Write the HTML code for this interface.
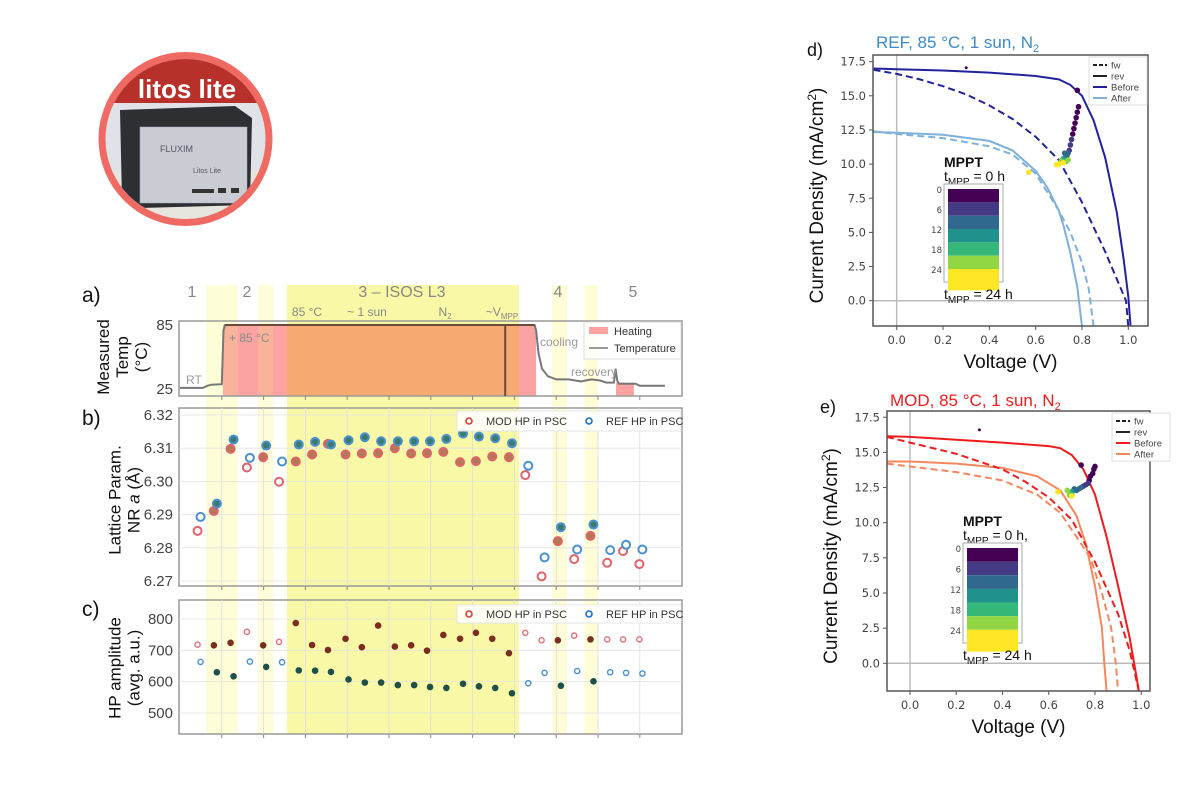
<!DOCTYPE html>
<html><head><meta charset="utf-8">
<style>
body{margin:0;background:#fff;}
svg{display:block;font-family:"Liberation Sans",sans-serif;}
.tk{font-family:"DejaVu Sans","Liberation Sans",sans-serif;fill:#444;}
</style></head>
<body>
<svg id="fig" width="1200" height="800" viewBox="0 0 1200 800">
<defs>
<clipPath id="clipD"><rect x="873" y="55" width="275" height="271"/></clipPath>
<clipPath id="clipE"><rect x="887" y="411" width="263" height="280"/></clipPath>
<clipPath id="logoClip"><circle cx="185.5" cy="139" r="80"/></clipPath>
</defs>
<g id="logo">
<circle cx="185.5" cy="139" r="87" fill="#ef6a63"/>
<g clip-path="url(#logoClip)">
<rect x="95" y="50" width="180" height="180" fill="#dfe2e6"/>
<rect x="95" y="50" width="180" height="53" fill="#b8302a"/>
<rect x="95" y="170" width="180" height="60" fill="#e8e4de"/>
<path d="M120 110 L235 106 L252 118 L250 205 L140 208 L122 200 Z" fill="#2e2f33"/>
<rect x="140" y="127" width="107" height="76" fill="#c9ccd2"/>
<rect x="140" y="127" width="107" height="76" fill="url(#none)" stroke="#aab" stroke-width="0.5"/>
<text x="160" y="152" font-size="9" fill="#556">FLUXIM</text>
<text x="193" y="173" font-size="7" fill="#556">Litos Lite</text>
<rect x="192" y="189" width="22" height="4" fill="#333"/>
<rect x="218" y="188" width="8" height="5" fill="#333"/>
<rect x="231" y="188" width="8" height="5" fill="#333"/>
</g>
<text x="187" y="98" font-size="26" font-weight="bold" fill="#fff" text-anchor="middle">litos lite</text>
</g>
<g id="left"></g>
<g id="pd"></g>
<g id="pe"></g>
</svg>
<script>
// ---------- Data: panels a-c ----------
const bandStart=[0.62,1.87,2.56,8.9,9.67];
const bandEnd=[1.38,2.23,8.11,9.26,10.0];
const heatStart=[1.03,10.43];
const heatEnd=[8.52,10.86];
const heatTop=[85,31];
const tempT=[0,0.55,0.65,0.75,1.0,1.04,1.08,8.48,8.52,8.58,8.66,8.8,9.0,9.3,9.6,9.7,9.85,10.05,10.2,10.38,10.42,10.46,10.5,10.9,11.0,11.6];
const tempV=[26,26,28,29,29.5,80,85,85,80,58,44,37,34,34,32,33,34,33,31,31,44,33,30,30,28,28];
const xPos=[0.42,0.81,1.21,1.60,1.99,2.37,2.77,3.16,3.54,3.96,4.35,4.74,5.14,5.53,5.91,6.30,6.70,7.08,7.47,7.87,8.26,8.65,9.04,9.43,9.82,10.22,10.60,10.99];
const latMOD=[6.2851,6.2911,6.3098,6.3042,6.3073,6.2999,6.3060,6.3081,6.3113,6.3081,6.3084,6.3085,6.3100,6.3084,6.3085,6.3089,6.3058,6.3061,6.3075,6.3073,6.3019,6.2714,6.2820,6.2766,6.2836,6.2755,6.2790,6.2751];
const latREF=[6.2893,6.2933,6.3126,6.3071,6.3108,6.3060,6.3111,6.3119,6.3111,6.3124,6.3133,6.3121,6.3121,6.3121,6.3121,6.3128,6.3144,6.3135,6.3130,6.3115,6.3047,6.2771,6.2862,6.2795,6.2870,6.2793,6.2809,6.2795];
const ampMOD=[718,716,724,759,716,727,787,717,701,737,710,779,712,716,699,749,737,756,737,691,756,732,732,747,735,735,735,735];
const ampREF=[663,630,617,664,647,662,636,635,631,607,597,597,589,589,583,580,593,585,580,563,595,628,587,634,601,630,628,626];
const latTicks=[6.32,6.31,6.30,6.29,6.28,6.27];
const ampTicks=[800,700,600,500];
const tempTicks=[85,25];
const xTicks=[1,2,3,4,5,6,7,8,9,10,11];
// ---------- Data: panel d ----------
const dBeforeRevV=[-0.1,0,0.2,0.4,0.6,0.7,0.75,0.8,0.85,0.9,0.95,0.98,1.0,1.01];
const dBeforeRevJ=[17.0,16.95,16.85,16.7,16.45,16.2,15.8,15.0,13.2,10.5,6.5,3,0.3,-1.9];
const dBeforeFwV=[-0.1,0,0.1,0.2,0.3,0.4,0.5,0.6,0.7,0.8,0.9,0.95,0.99,1.0];
const dBeforeFwJ=[16.9,16.6,16.2,15.7,15.1,14.3,13.3,12.0,10.3,7.2,3.6,1.6,0,-1.9];
const dAfterRevV=[-0.1,0,0.2,0.4,0.5,0.6,0.65,0.7,0.72,0.75,0.78,0.8];
const dAfterRevJ=[12.35,12.3,12.15,11.7,11.0,9.5,8.3,6.6,5.5,3.5,1.0,-1.9];
const dAfterFwV=[-0.1,0,0.2,0.4,0.5,0.6,0.7,0.75,0.8,0.83,0.85];
const dAfterFwJ=[12.4,12.2,11.9,11.3,10.7,9.3,6.6,5.0,2.8,0.8,-1.9];
const dMpV=[0.3,0.78,0.785,0.78,0.775,0.77,0.765,0.76,0.755,0.75,0.745,0.74,0.735,0.73,0.725,0.72,0.73,0.715,0.71,0.7,0.69,0.72,0.74,0.57];
const dMpJ=[17.05,15.4,14.2,13.8,13.4,13.0,12.6,12.2,11.8,11.4,11.0,10.8,10.6,10.5,10.8,10.4,10.2,10.3,10.2,10.0,9.95,10.1,10.3,9.4];
const dMpH=[0,0,0,0,1,2,2,3,4,5,6,7,8,9,10,12,14,16,20,24,24,22,18,24];
// ---------- Data: panel e ----------
const eBeforeRevV=[-0.1,0,0.2,0.4,0.6,0.65,0.7,0.75,0.8,0.85,0.9,0.95,0.98,0.99];
const eBeforeRevJ=[16.15,16.1,15.9,15.7,15.45,15.3,14.8,13.8,12.0,9.0,5.5,1.8,-1.0,-2.0];
const eBeforeFwV=[-0.1,0,0.2,0.4,0.5,0.6,0.7,0.8,0.9,0.95,0.99];
const eBeforeFwJ=[16.1,15.7,14.9,13.8,12.9,11.8,10.2,7.2,3.5,0.9,-2.0];
const eAfterRevV=[-0.1,0,0.2,0.4,0.55,0.65,0.72,0.76,0.8,0.83,0.84,0.85];
const eAfterRevJ=[14.35,14.35,14.2,13.9,13.3,12.3,10.5,8.5,5.5,2.5,0,-2.0];
const eAfterFwV=[-0.1,0,0.2,0.4,0.55,0.65,0.72,0.78,0.83,0.87,0.89,0.9];
const eAfterFwJ=[14.2,14.0,13.6,13.0,12.0,10.7,9.0,7.5,5.0,2.5,0,-2.0];
const eMpV=[0.3,0.74,0.8,0.795,0.79,0.78,0.775,0.77,0.76,0.75,0.74,0.73,0.72,0.71,0.7,0.69,0.7,0.68,0.69,0.7,0.64];
const eMpJ=[16.6,14.1,14.0,13.8,13.5,13.3,13.0,12.8,12.7,12.6,12.5,12.4,12.3,12.4,12.2,12.1,12.0,12.3,11.95,11.9,12.2];
const eMpH=[0,0,0,0,1,2,3,4,5,6,7,8,9,10,12,14,16,18,20,24,24];
const cbTicks=[0,6,12,18,24];
const viridis=['#440154','#443983','#31688e','#21918c','#35b779','#90d743','#fde725'];

const NS='http://www.w3.org/2000/svg';
function mk(parent,tag,attrs,text){const e=document.createElementNS(NS,tag);for(const k in attrs)e.setAttribute(k,attrs[k]);if(text!==undefined)e.textContent=text;parent.appendChild(e);return e;}
function vcol(h){return viridis[Math.min(6,Math.floor(h/24*6.99))];}

const X=t=>180+41.8*t;
const Ya=T=>389-(T-25)*64/60;
const Yb=v=>415+(6.32-v)*3320;
const Yc=v=>619+(800-v)*0.3133;
const L=document.getElementById('left');

for(let i=0;i<bandStart.length;i++){
  const r=mk(L,'rect',{x:X(bandStart[i]),y:285,width:X(bandEnd[i])-X(bandStart[i]),height:449,fill:i===2?'#f8f8a6':'#fdfdd8'});
  
  
}
for(let i=0;i<heatStart.length;i++){
  const x0=X(heatStart[i]),x1=X(heatEnd[i]),y0=Ya(heatTop[i]);
  const r=mk(L,'rect',{x:x0,y:y0,width:x1-x0,height:396-y0,fill:'#fba3a3'});
  
  
  for(let j=0;j<bandStart.length;j++){
    const a=Math.max(heatStart[i],bandStart[j]),b=Math.min(heatEnd[i],bandEnd[j]);
    if(b>a){const o=mk(L,'rect',{x:X(a),y:y0,width:X(b)-X(a),height:396-y0,fill:j===2?'#f6a971':'#f9b39a'});
      
      }
  }
}
const frames=[[321,396,'panel-a-frame'],[408,586,'panel-b-frame'],[600,734,'panel-c-frame']];
frames.forEach(f=>{const r=mk(L,'rect',{x:179,y:f[0],width:503,height:f[1]-f[0],fill:'none',stroke:'#999','stroke-width':1.5});
  
  });
xTicks.forEach(t=>{
  [[408,586],[600,734]].forEach(g=>mk(L,'line',{x1:X(t),x2:X(t),y1:g[0],y2:g[1],stroke:'#ddd','stroke-width':0.8}));
  [396,586,734].forEach(yb=>mk(L,'line',{x1:X(t),x2:X(t),y1:yb,y2:yb+4,stroke:'#888','stroke-width':1}));
});
latTicks.forEach(v=>{mk(L,'line',{x1:179,x2:682,y1:Yb(v),y2:Yb(v),stroke:'#e2e2e2','stroke-width':0.8});
  const t=mk(L,'text',{x:173,y:Yb(v)+5,'font-size':15,fill:'#444','text-anchor':'end'},v.toFixed(2));
  
  });
ampTicks.forEach(v=>{mk(L,'line',{x1:179,x2:682,y1:Yc(v),y2:Yc(v),stroke:'#e2e2e2','stroke-width':0.8});
  const t=mk(L,'text',{x:173,y:Yc(v)+5,'font-size':15,fill:'#444','text-anchor':'end'},String(v));
  
  });
tempTicks.forEach(v=>{const t=mk(L,'text',{x:173,y:Ya(v)+5,'font-size':15,fill:'#444','text-anchor':'end'},String(v));
  
  });
mk(L,'line',{x1:X(7.78),x2:X(7.78),y1:Ya(85),y2:396,stroke:'#6b4a3a','stroke-width':2});
let d='';tempT.forEach((t,i)=>{d+=(i?'L':'M')+X(t).toFixed(1)+' '+Ya(tempV[i]).toFixed(1);});
const tl=mk(L,'path',{d:d,fill:'none',stroke:'#777','stroke-width':2});


mk(L,'line',{x1:X(1.08),x2:X(8.48),y1:Ya(85),y2:Ya(85),stroke:'#6b4a3a','stroke-width':2});
[['1',192],['2',247],['3 – ISOS L3',402],['4',558],['5',633]].forEach(s=>{
  const t=mk(L,'text',{x:s[1],y:297,'font-size':16,fill:'#888','text-anchor':'middle'},s[0]);
  
  });
[['85 °C',307],['~ 1 sun',367]].forEach(s=>mk(L,'text',{x:s[1],y:316,'font-size':12,fill:'#888','text-anchor':'middle'},s[0]));
const n2=mk(L,'text',{x:445,y:316,'font-size':12,fill:'#888','text-anchor':'middle'});n2.innerHTML='N<tspan font-size="8" dy="3">2</tspan>';
const vm=mk(L,'text',{x:502,y:316,'font-size':12,fill:'#888','text-anchor':'middle'});vm.innerHTML='~V<tspan font-size="8" dy="3">MPP</tspan>';
mk(L,'text',{x:229,y:342,'font-size':12,fill:'#8a8a8a'},'+ 85 °C');
mk(L,'text',{x:186,y:384,'font-size':12,fill:'#999'},'RT');
mk(L,'text',{x:540,y:346,'font-size':12,fill:'#999'},'cooling');
mk(L,'text',{x:571,y:376,'font-size':12,fill:'#999'},'recovery');
const tlg=mk(L,'g',{});


mk(tlg,'rect',{x:584,y:322,width:97,height:37,fill:'#fff','fill-opacity':0.85,stroke:'#ddd'});
mk(tlg,'rect',{x:589,y:327,width:19,height:7,fill:'#fba3a3'});
mk(tlg,'text',{x:614,y:335,'font-size':11,fill:'#333'},'Heating');
mk(tlg,'line',{x1:589,x2:608,y1:348,y2:348,stroke:'#999','stroke-width':2});
mk(tlg,'text',{x:614,y:352,'font-size':11,fill:'#333'},'Temperature');

function inBand(t){for(let i=0;i<bandStart.length;i++)if(t>=bandStart[i]&&t<=bandEnd[i])return true;return false;}
xPos.forEach((t,i)=>{
  const f=inBand(t);
  const m=mk(L,'circle',{cx:X(t),cy:Yb(latMOD[i]),r:4,fill:f?'#b07a55':'#fff',stroke:'#e0636b','stroke-width':2});
  
  
  const r=mk(L,'circle',{cx:X(t)+3,cy:Yb(latREF[i]),r:4,fill:f?'#3e7a6c':'#fff',stroke:'#4a90d0','stroke-width':2});
  
  
  const m2=mk(L,'circle',{cx:X(t),cy:Yc(ampMOD[i]),r:2.6,fill:f?'#7a2e20':'#fff',stroke:f?'#7a2e20':'#e0707a','stroke-width':1.4});
  
  
  const r2=mk(L,'circle',{cx:X(t)+3,cy:Yc(ampREF[i]),r:2.6,fill:f?'#1f4f4a':'#fff',stroke:f?'#1f4f4a':'#4a90d0','stroke-width':1.4});
  
  
});
[[411,431,'lattice-legend'],[605,623,'amplitude-legend']].forEach(g=>{
  const lg=mk(L,'g',{});
  
  
  mk(lg,'rect',{x:457,y:g[0],width:224,height:g[1]-g[0],fill:'#fff','fill-opacity':0.85,stroke:'#e5e5e5'});
  const cy=(g[0]+g[1])/2;
  mk(lg,'circle',{cx:469,cy:cy,r:3,fill:'none',stroke:'#e03a3a','stroke-width':1.6});
  mk(lg,'text',{x:486,y:cy+4,'font-size':11,fill:'#333'},'MOD HP in PSC');
  mk(lg,'circle',{cx:589,cy:cy,r:3,fill:'none',stroke:'#1a6fd0','stroke-width':1.6});
  mk(lg,'text',{x:606,y:cy+4,'font-size':11,fill:'#333'},'REF HP in PSC');
});
[['a)',82,302],['b)',82,425],['c)',82,616]].forEach(s=>mk(L,'text',{x:s[1],y:s[2],'font-size':21,fill:'#111'},s[0]));
function ytitle(lines,cx,cy,name){const g=mk(L,'text',{'font-size':17,fill:'#111','text-anchor':'middle',transform:`translate(${cx},${cy}) rotate(-90)`});
  
  
  lines.forEach((l,i)=>{const ts=mk(g,'tspan',{x:0,y:(i-(lines.length-1)/2)*19+6});ts.innerHTML=l;});}
ytitle(['Measured','Temp','(°C)'],122,357,'temp-axis-title');
ytitle(['Lattice Param.','NR <tspan font-style="italic">a</tspan> (Å)'],124,500,'lattice-axis-title');
ytitle(['HP amplitude','(avg. a.u.)'],124,668,'amplitude-axis-title');

function jvPanel(gid,cfg){
  const G=document.getElementById(gid);
  const Xf=cfg.X,Yf=cfg.Y;
  mk(G,'rect',{x:cfg.l,y:cfg.t,width:cfg.r-cfg.l,height:cfg.b-cfg.t,fill:'#fff'});
  const C=mk(G,'g',{'clip-path':`url(#${cfg.clip})`});
  mk(C,'line',{x1:Xf(0),x2:Xf(0),y1:cfg.t,y2:cfg.b,stroke:'#bbb','stroke-width':1.5});
  mk(C,'line',{x1:cfg.l,x2:cfg.r,y1:Yf(0),y2:Yf(0),stroke:'#bbb','stroke-width':1.5});
  function line(V,J,col,dash,name){let d='';V.forEach((v,i)=>{d+=(i?'L':'M')+Xf(v).toFixed(1)+' '+Yf(J[i]).toFixed(1);});
    const p=mk(C,'path',{d:d,fill:'none',stroke:col,'stroke-width':2,'stroke-dasharray':dash?'7,4':'none'});
    
    }
  line(cfg.arV,cfg.arJ,cfg.cA,false,'after-rev-curve');
  line(cfg.afV,cfg.afJ,cfg.cA,true,'after-fw-curve');
  line(cfg.brV,cfg.brJ,cfg.cB,false,'before-rev-curve');
  line(cfg.bfV,cfg.bfJ,cfg.cB,true,'before-fw-curve');
  cfg.mV.forEach((v,i)=>{const c=mk(C,'circle',{cx:Xf(v),cy:Yf(cfg.mJ[i]),r:i===0?1.5:2.8,fill:vcol(cfg.mH[i])});
    
    });
  mk(G,'rect',{x:cfg.l,y:cfg.t,width:cfg.r-cfg.l,height:cfg.b-cfg.t,fill:'none',stroke:'#555','stroke-width':1.5});
  [0,0.2,0.4,0.6,0.8,1.0].forEach(v=>{mk(G,'line',{x1:Xf(v),x2:Xf(v),y1:cfg.b,y2:cfg.b+4,stroke:'#555'});
    const t=mk(G,'text',{x:Xf(v),y:cfg.b+18,'font-size':11.5,'text-anchor':'middle',class:'tk'},v.toFixed(1));
    
    });
  [0,2.5,5,7.5,10,12.5,15,17.5].forEach(v=>{mk(G,'line',{x1:cfg.l-4,x2:cfg.l,y1:Yf(v),y2:Yf(v),stroke:'#555'});
    const t=mk(G,'text',{x:cfg.l-7,y:Yf(v)+4,'font-size':11.5,'text-anchor':'end',class:'tk'},v.toFixed(1));
    
    });
  const xt=mk(G,'text',{x:(cfg.l+cfg.r)/2,y:cfg.b+42,'font-size':19,'text-anchor':'middle',fill:'#111'},'Voltage (V)');
  
  
  const yt=mk(G,'text',{'font-size':19,'text-anchor':'middle',fill:'#111',transform:`translate(${cfg.l-50},${(cfg.t+cfg.b)/2+5}) rotate(-90)`});
  yt.innerHTML='Current Density (mA/cm<tspan font-size="12" dy="-7">2</tspan><tspan dy="7">)</tspan>';
  
  
  const ti=mk(G,'text',{x:cfg.titleX,y:cfg.titleY,'font-size':17,fill:cfg.titleCol});
  ti.innerHTML=cfg.title+'N<tspan font-size="11" dy="4">2</tspan>';
  
  
  mk(G,'text',{x:cfg.letX,y:cfg.letY,'font-size':18,fill:'#111'},cfg.letter);
  const lg=mk(G,'g',{});
  
  
  mk(lg,'rect',{x:cfg.lgX,y:cfg.lgY,width:58,height:48,fill:'#fff',stroke:'#ddd'});
  [['fw','#222',true],['rev','#222',false],['Before',cfg.cB,false],['After',cfg.cA,false]].forEach((e,i)=>{
    const y=cfg.lgY+8+i*11;
    mk(lg,'line',{x1:cfg.lgX+4,x2:cfg.lgX+18,y1:y,y2:y,stroke:e[1],'stroke-width':2,'stroke-dasharray':e[2]?'4,2':'none'});
    mk(lg,'text',{x:cfg.lgX+22,y:y+3.5,'font-size':9.5,fill:'#444'},e[0]);
  });
  const cb=mk(G,'g',{});
  
  
  mk(cb,'text',{x:cfg.cbX-4,y:cfg.cbY-17,'font-size':14,'font-weight':'bold',fill:'#111'},'MPPT');
  const t0=mk(cb,'text',{x:cfg.cbX-4,y:cfg.cbY-3,'font-size':14,fill:'#111'});t0.innerHTML='t<tspan font-size="10" dy="4">MPP</tspan><tspan dy="-4"> = 0 h'+cfg.comma+'</tspan>';
  mk(cb,'rect',{x:cfg.cbX-4,y:cfg.cbY,width:cfg.cbW+8,height:cfg.cbH+10,fill:'#fff',stroke:'#aaa'});
  const bh=cfg.cbH/6.6;
  viridis.forEach((c,i)=>{mk(cb,'rect',{x:cfg.cbX,y:cfg.cbY+5+i*bh,width:cfg.cbW,height:i===6?bh*1.6:bh,fill:c});});
  cbTicks.forEach((v,i)=>mk(cb,'text',{x:cfg.cbX-6,y:cfg.cbY+9+v/24*(cfg.cbH-8),'font-size':8.5,'text-anchor':'end',class:'tk'},String(v)));
  const t1=mk(cb,'text',{x:cfg.cbX-4,y:cfg.cbY+cfg.cbH+27,'font-size':14,fill:'#111'});t1.innerHTML='t<tspan font-size="10" dy="4">MPP</tspan><tspan dy="-4"> = 24 h</tspan>';
}
jvPanel('pd',{X:v=>896.7+231.6*v,Y:j=>300.7-13.66*j,l:873,r:1148,t:55,b:326,clip:'clipD',
  brV:dBeforeRevV,brJ:dBeforeRevJ,bfV:dBeforeFwV,bfJ:dBeforeFwJ,arV:dAfterRevV,arJ:dAfterRevJ,afV:dAfterFwV,afJ:dAfterFwJ,
  mV:dMpV,mJ:dMpJ,mH:dMpH,cB:'#22229a',cA:'#7fb0dc',title:'REF, 85 °C, 1 sun, ',titleCol:'#3d8ac9',titleX:876,titleY:48,
  letter:'d)',letX:807,letY:56,lgX:1089,lgY:57,cbX:948,cbY:184,cbW:51,cbH:88,comma:''});
jvPanel('pe',{X:v=>910+231.25*v,Y:j=>663.3-14.06*j,l:887,r:1150,t:411,b:691,clip:'clipE',
  brV:eBeforeRevV,brJ:eBeforeRevJ,bfV:eBeforeFwV,bfJ:eBeforeFwJ,arV:eAfterRevV,arJ:eAfterRevJ,afV:eAfterFwV,afJ:eAfterFwJ,
  mV:eMpV,mJ:eMpJ,mH:eMpH,cB:'#ee1c1c',cA:'#f5875f',title:'MOD, 85 °C, 1 sun, ',titleCol:'#ee1c1c',titleX:890,titleY:406,
  letter:'e)',letX:820,letY:413,lgX:1112,lgY:413,cbX:967,cbY:543,cbW:51,cbH:90,comma:','});
</script>
</body></html>
